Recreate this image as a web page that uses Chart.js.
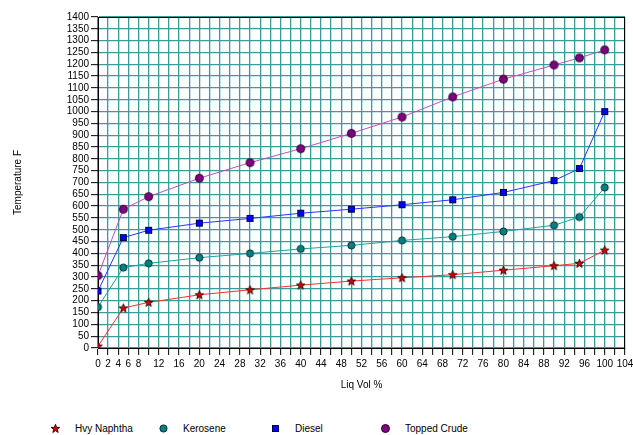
<!DOCTYPE html>
<html>
<head>
<meta charset="utf-8">
<script src="https://cdn.jsdelivr.net/npm/chart.js@4.4.0/dist/chart.umd.min.js"></script>
<style>
  html, body { margin: 0; padding: 0; background: #fff; }
  #wrap { position: relative; width: 633px; height: 435px; overflow: hidden; }
  #box { position: absolute; left: 0; top: 0; width: 633px; height: 400px; }
  #legend { position: absolute; left: 0; top: 422px; width: 633px; height: 13px;
    font: 10px "Liberation Sans", Arial, sans-serif; color: #000; }
  .item { position: absolute; top: 0; white-space: nowrap; line-height: 13px; }
  .item img { position: absolute; left: -5px; top: 1px; }
  .item span { position: absolute; left: 20px; top: 0; }
</style>
</head>
<body>
<div id="wrap">
  <div id="box"><canvas id="chart"></canvas></div>
  <div id="legend"></div>
</div>
<script>
// data
const liqVol = [0, 5, 10, 20, 30, 40, 50, 60, 70, 80, 90, 95, 100];
const hvyNaphtha = [8, 169, 193, 225, 246, 266, 283, 297, 310, 329, 348, 358, 414];
const kerosene = [173, 340, 358, 382, 400, 419, 434, 455, 471, 493, 519, 554, 679];
const diesel = [241, 467, 498, 528, 548, 570, 587, 606, 627, 658, 708, 759, 1000];
const toppedCrude = [306, 587, 640, 718, 784, 843, 908, 977, 1062, 1137, 1197, 1227, 1261];
const seriesNames = ["Hvy Naphtha", "Kerosene", "Diesel", "Topped Crude"];
const xTickLabels = [0, 2, 4, 6, 8, 12, 16, 20, 24, 28, 32, 36, 40, 44, 48, 52, 56, 60,
  64, 68, 72, 76, 80, 84, 88, 92, 96, 100, 104];

const lineColors = ["#ff3030", "#20a0a0", "#3030ff", "#c050c0"];
const font = { family: '"Liberation Sans", Arial, sans-serif', size: 10 };

function marker(kind) {
  const c = document.createElement("canvas");
  c.width = 11; c.height = 11;
  const g = c.getContext("2d");
  g.lineWidth = 1;
  if (kind === 0) {
    g.beginPath();
    for (let i = 0; i < 10; i++) {
      const r = i % 2 ? 1.8 : 4.5;
      const a = -Math.PI / 2 + i * Math.PI / 5;
      g.lineTo(5.5 + r * Math.cos(a), 5.8 + r * Math.sin(a));
    }
    g.closePath();
    g.fillStyle = "#e00000"; g.fill();
    g.strokeStyle = "#400000"; g.stroke();
  } else if (kind === 1) {
    g.beginPath(); g.arc(5.5, 5.5, 3.6, 0, Math.PI * 2);
    g.fillStyle = "#008080"; g.fill();
    g.strokeStyle = "#003030"; g.stroke();
  } else if (kind === 2) {
    g.fillStyle = "#0000ff"; g.fillRect(2, 2, 7, 7);
    g.strokeStyle = "#000040"; g.strokeRect(2.5, 2.5, 6, 6);
  } else {
    g.beginPath(); g.arc(5.5, 5.5, 4, 0, Math.PI * 2);
    g.fillStyle = "#800080"; g.fill();
    g.strokeStyle = "#300030"; g.stroke();
  }
  return c;
}

const markers = [0, 1, 2, 3].map(marker);
const allSeries = [hvyNaphtha, kerosene, diesel, toppedCrude];

const datasets = allSeries.map((vals, i) => ({
  label: seriesNames[i],
  data: liqVol.map((x, j) => ({ x: x, y: vals[j] })),
  borderColor: lineColors[i],
  borderWidth: 1,
  pointStyle: markers[i],
  pointRadius: 5,
  tension: 0,
}));

const frame = {
  id: "frame",
  beforeDatasetsDraw(c) {
    const a = c.chartArea, g = c.ctx;
    g.save();
    g.strokeStyle = "#000";
    g.lineWidth = 1;
    g.strokeRect(Math.round(a.left) + 0.5, Math.round(a.top) + 0.5,
      Math.round(a.right - a.left) - 1, Math.round(a.bottom - a.top));
    g.restore();
  }
};

new Chart(document.getElementById("chart"), {
  type: "line",
  data: { datasets: datasets },
  plugins: [frame],
  options: {
    responsive: true,
    maintainAspectRatio: false,
    animation: false,
    layout: { padding: { top: 17, right: 8, left: 0, bottom: 0 } },
    plugins: { legend: { display: false }, tooltip: { enabled: false } },
    scales: {
      x: {
        type: "linear",
        min: 0,
        max: 104,
        ticks: {
          stepSize: 2,
          autoSkip: false,
          maxRotation: 0,
          color: "#000",
          font: font,
          padding: 3,
          callback: v => xTickLabels.includes(v) ? String(v) : "",
        },
        grid: { color: "#3a9c9c", lineWidth: 1.3, tickColor: "#000", tickWidth: 1, tickLength: 7 },
        border: { color: "#000" },
        title: { display: true, text: "Liq Vol %", color: "#000", font: font, padding: { top: 0, bottom: 9 } },
        afterFit: s => { s.height = 52; s.paddingLeft = 0; s.paddingRight = 0; },
      },
      y: {
        min: 0,
        max: 1400,
        ticks: { stepSize: 50, autoSkip: false, color: "#000", font: font, padding: 2,
          callback: v => String(v) },
        grid: { color: "#3a9c9c", lineWidth: 1.3, tickColor: "#000", tickWidth: 1, tickLength: 7 },
        border: { color: "#000" },
        title: { display: true, text: "Temperature F", color: "#000", font: font, padding: { top: 12, bottom: 0 } },
        afterFit: s => { s.width = 98; s.paddingTop = 0; s.paddingBottom = 0; },
      },
    },
  },
});

// legend
const legendX = [55, 163, 275, 385];
const legend = document.getElementById("legend");
seriesNames.forEach((name, i) => {
  const d = document.createElement("div");
  d.className = "item";
  d.style.left = legendX[i] + "px";
  const img = document.createElement("img");
  img.src = markers[i].toDataURL();
  const t = document.createElement("span");
  t.textContent = name;
  d.appendChild(img);
  d.appendChild(t);
  legend.appendChild(d);
});
</script>
</body>
</html>
